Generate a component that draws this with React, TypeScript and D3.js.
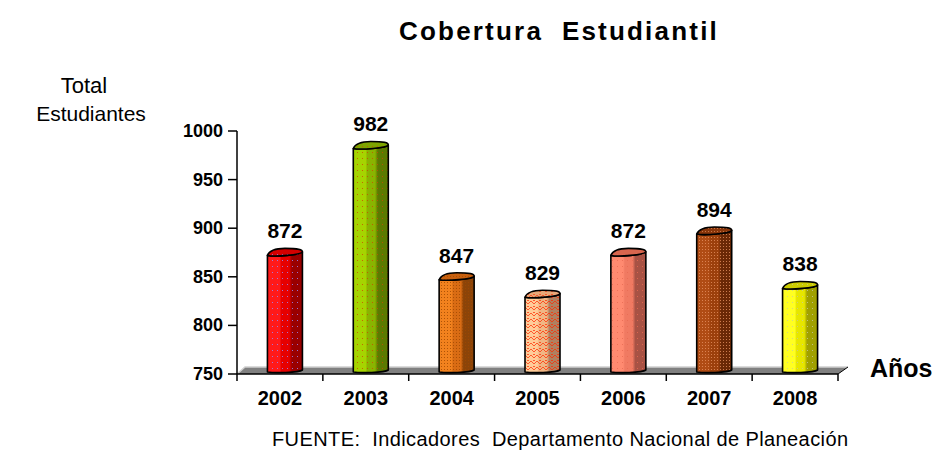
import React from "react";
import * as d3 from "d3";

const years = ["2002", "2003", "2004", "2005", "2006", "2007", "2008"];
const values = [872, 982, 847, 829, 872, 894, 838];
const yTicks = [750, 800, 850, 900, 950, 1000];

const lightC = ["#ff1a1a", "#a6d400", "#f2821e", "#ffcc99", "#ff8a70", "#b04c14", "#ffff22"];
const midC = ["#e60000", "#8ab400", "#d96c14", "#f0b684", "#f07a62", "#9c400c", "#e6e600"];
const darkC = ["#990000", "#5c7a00", "#8c4408", "#b08060", "#a85244", "#6a2806", "#a0a000"];
const topC = ["#d40000", "#7ea400", "#c8600e", "#e8a878", "#d8664e", "#8a360a", "#cccc00"];
const dotC = ["#9a8cff", "#cc4a00", "#a04800", "#ff2a00", "#e86a52", "#e49060", "#c8c8a0"];

export default function App() {
  const W = 935, H = 450;
  const axL = 237, axR = 838, yTop = 131, yBot = 374;
  const y = d3.scaleLinear().domain([750, 1000]).range([yBot, yTop]);
  const x = d3.scaleBand().domain(years).range([axL, axR]);
  const bw = 35;
  const font = "'Liberation Sans', Arial, sans-serif";
  const boundaries = d3.range(years.length + 1).map((i) => axL + i * x.step());
  const pre = { whiteSpace: "pre" as const };

  return (
    <svg width={W} height={H} style={{ position: "absolute", left: 0, top: 0, background: "#fff" }}>
      <defs>
        {years.map((yr, i) => (
          <linearGradient key={"g" + i} id={"grad" + i} x1="0" x2="1" y1="0" y2="0">
            <stop offset="0" stopColor={lightC[i]} />
            <stop offset="0.35" stopColor={lightC[i]} />
            <stop offset="0.4" stopColor={midC[i]} />
            <stop offset="0.62" stopColor={midC[i]} />
            <stop offset="0.7" stopColor={darkC[i]} />
            <stop offset="1" stopColor={darkC[i]} />
          </linearGradient>
        ))}
        {years.map((yr, i) =>
          i === 3 ? (
            <pattern key={"p" + i} id={"pat" + i} width="6" height="6" patternUnits="userSpaceOnUse">
              <path d="M0,4 L3,1 L6,4 M0,1 L1.5,-0.5 M4.5,-0.5 L6,1" stroke={dotC[i]} strokeWidth="0.9" fill="none" />
            </pattern>
          ) : i === 5 || i === 2 ? (
            <pattern key={"p" + i} id={"pat" + i} width="3" height="3" patternUnits="userSpaceOnUse">
              <rect x="0" y="0" width="1" height="1" fill={dotC[i]} />
            </pattern>
          ) : (
            <pattern key={"p" + i} id={"pat" + i} width="5" height="6" patternUnits="userSpaceOnUse">
              <rect x="2" y="2" width="1" height="1" fill={dotC[i]} />
            </pattern>
          )
        )}
      </defs>

      {/* Title */}
      <text x={559} y={40} textAnchor="middle" fontFamily={font} fontWeight="bold" fontSize={26} letterSpacing={2.2} style={pre}>
        {"Cobertura  Estudiantil"}
      </text>
      <text x={84} y={93} textAnchor="middle" fontFamily={font} fontSize={22}>Total</text>
      <text x={91} y={121} textAnchor="middle" fontFamily={font} fontSize={21}>Estudiantes</text>

      {/* Floor */}
      <path
        d={`M${axL},${yBot} L${axL + 8},${yBot - 7} L${axR + 10},${yBot - 7} L${axR},${yBot} Z`}
        fill="#808080"
      />
      <path d={`M${axL},${yBot} L${axL + 8},${yBot - 7} L${axR + 10},${yBot - 7}`} fill="none" stroke="#d0d0d0" strokeWidth={1.5} />
      <path d={`M${axR + 10},${yBot - 7} L${axR},${yBot}`} fill="none" stroke="#000" strokeWidth={1} />

      {/* Y axis */}
      <line x1={axL} x2={axL} y1={yTop} y2={yBot} stroke="#000" strokeWidth={1.5} />
      {yTicks.map((t) => (
        <g key={t}>
          <line x1={axL - 9} x2={axL} y1={y(t)} y2={y(t)} stroke="#000" strokeWidth={1.5} />
          <text x={axL - 14} y={y(t) + 6} textAnchor="end" fontFamily={font} fontWeight="bold" fontSize={18}>
            {t}
          </text>
        </g>
      ))}

      {/* X axis */}
      <line x1={axL} x2={axR} y1={yBot} y2={yBot} stroke="#000" strokeWidth={1.5} />
      {boundaries.map((b, i) => (
        <line key={i} x1={b} x2={b} y1={yBot} y2={yBot + 7} stroke="#000" strokeWidth={1.5} />
      ))}
      {years.map((yr) => (
        <text key={yr} x={(x(yr) as number) + x.bandwidth() / 2} y={405} textAnchor="middle" fontFamily={font} fontWeight="bold" fontSize={20}>
          {yr}
        </text>
      ))}

      {/* Bars */}
      {years.map((yr, i) => {
        const cx = (x(yr) as number) + x.bandwidth() / 2 + 5;
        const x0 = cx - bw / 2;
        const x1 = cx + bw / 2;
        const yt = y(values[i]);
        const yb = yBot - 2;
        const body = `M${x0},${yt} C${x0 + 8},${yt + 1.5} ${x1 - 2},${yt - 0.5} ${x1},${yt - 3.5} L${x1},${yb - 2} C${x1 - 4},${yb + 1} ${x0 + 6},${yb + 1} ${x0},${yb} Z`;
        const top = `M${x0},${yt} C${x0 + 2},${yt - 5} ${x0 + 8},${yt - 7} ${cx},${yt - 7} C${x1 - 4},${yt - 7} ${x1},${yt - 6} ${x1},${yt - 3.5} C${x1 - 2},${yt - 0.5} ${x0 + 8},${yt + 1.5} ${x0},${yt} Z`;
        return (
          <g key={yr}>
            <path d={body} fill={`url(#grad${i})`} />
            <path d={body} fill={`url(#pat${i})`} opacity={0.8} />
            <path d={body} fill="none" stroke="#000" strokeWidth={1.6} strokeLinejoin="round" />
            <path d={top} fill={topC[i]} />
            <path d={top} fill={`url(#pat${i})`} opacity={0.7} />
            <path d={top} fill="none" stroke="#000" strokeWidth={1.6} strokeLinejoin="round" />
            <text x={cx} y={yt - 17} textAnchor="middle" fontFamily={font} fontWeight="bold" fontSize={21}>
              {values[i]}
            </text>
          </g>
        );
      })}

      <text x={870} y={377} fontFamily={font} fontWeight="bold" fontSize={25}>Años</text>
      <text x={272} y={446} fontFamily={font} fontSize={20} letterSpacing={0.4} style={pre}>
        {"FUENTE:  Indicadores  Departamento Nacional de Planeación"}
      </text>
    </svg>
  );
}
